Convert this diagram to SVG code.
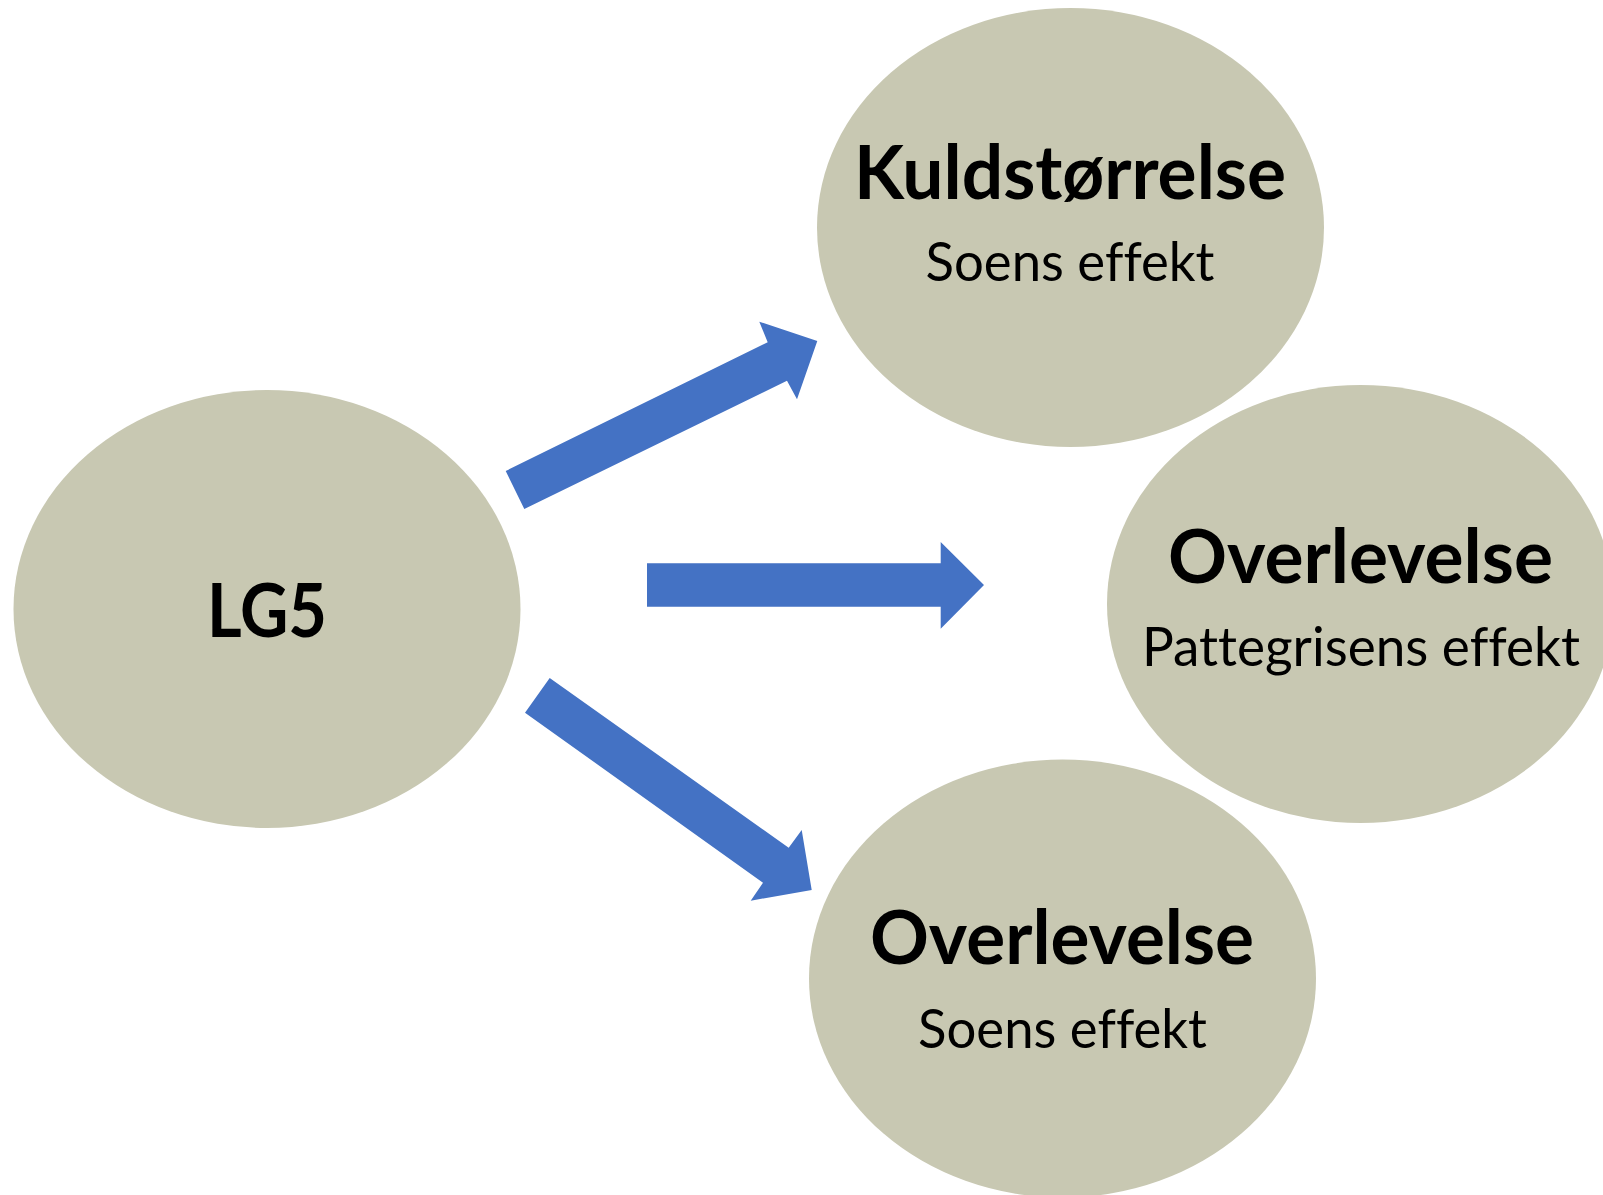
<svg xmlns="http://www.w3.org/2000/svg" width="1603" height="1195" viewBox="0 0 1603 1195">
<style>
.node{fill:#C8C8B2;}
.arrow{fill:#4472C4;}
.t{font-family:Lato,"Open Sans","Liberation Sans",sans-serif;fill:#000;text-anchor:middle;font-variant-ligatures:none;font-feature-settings:"liga" 0,"clig" 0,"dlig" 0;}
.b{font-weight:bold;font-size:74px;}
.r{font-weight:normal;font-size:54px;}
</style>
<rect width="1603" height="1195" fill="#fff"/>
<g id="connectors">
<polygon class="arrow" points="524.3,509 505.7,471 767.7,342.3 759.3,321.7 817.3,341 797,399.3 787,380.7"/>
<polygon class="arrow" points="647,563.3 940.7,563.3 940.7,542 984,585 940.7,628.7 940.7,606.7 647,606.7"/>
<polygon class="arrow" points="549.7,678 525,712.7 763,882.7 750.7,900.7 811.7,890 801.7,830 788.7,847.7"/>
</g>
<g id="node-lg5">
<ellipse class="node" cx="267" cy="609" rx="253.5" ry="219"/>
<text class="t b" x="267" y="637" textLength="120" lengthAdjust="spacingAndGlyphs">LG5</text>
</g>
<g id="node-kuld">
<ellipse class="node" cx="1070.5" cy="227.5" rx="253.5" ry="219.5"/>
<text class="t b" x="1070" y="199" textLength="432" lengthAdjust="spacingAndGlyphs">Kuldstørrelse</text>
<text class="t r" x="1070" y="281" textLength="289" lengthAdjust="spacingAndGlyphs">Soens effekt</text>
</g>
<g id="node-overlevelse-pattegris">
<ellipse class="node" cx="1360.5" cy="604" rx="253.5" ry="219"/>
<text class="t b" x="1360.5" y="583" textLength="385" lengthAdjust="spacingAndGlyphs">Overlevelse</text>
<text class="t r" x="1361" y="665.5" textLength="438" lengthAdjust="spacingAndGlyphs">Pattegrisens effekt</text>
</g>
<g id="node-overlevelse-so">
<ellipse class="node" cx="1062.5" cy="978.5" rx="253.5" ry="219"/>
<text class="t b" x="1062" y="964" textLength="384" lengthAdjust="spacingAndGlyphs">Overlevelse</text>
<text class="t r" x="1062.5" y="1048" textLength="289" lengthAdjust="spacingAndGlyphs">Soens effekt</text>
</g>
</svg>
